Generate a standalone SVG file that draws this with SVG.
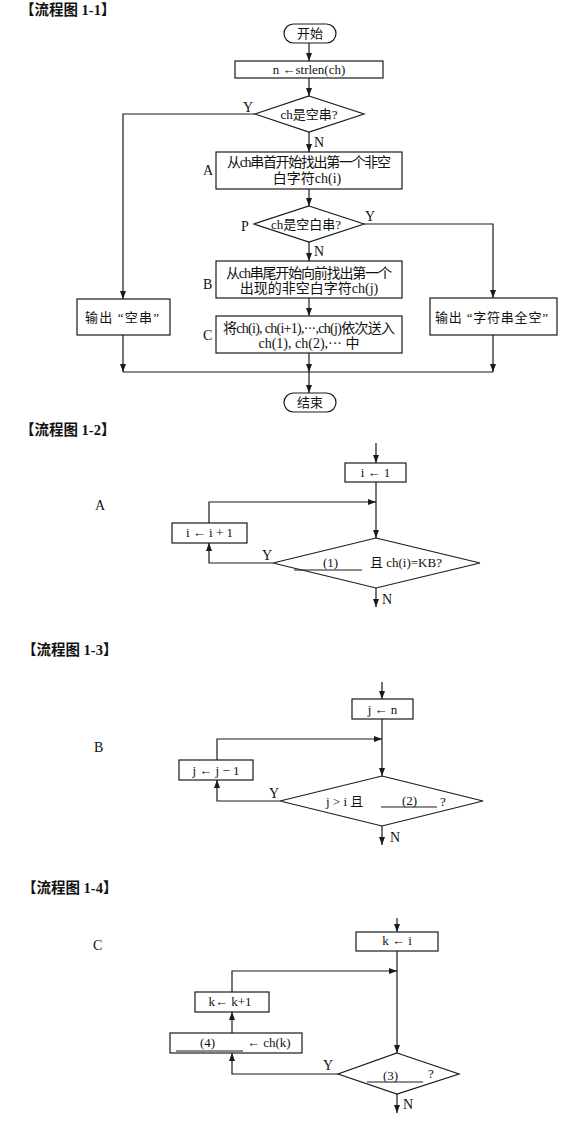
<svg xmlns="http://www.w3.org/2000/svg" width="575" height="1121" viewBox="0 0 575 1121">
<style>
.bg{fill:#fff}
.box{fill:#fff;stroke:#1a1a1a;stroke-width:1.2}
.ln{fill:none;stroke:#1a1a1a;stroke-width:1.2}
.t{font-family:"Liberation Serif","Noto Sans CJK SC",serif;font-size:13px;fill:#111}
.tb{font-family:"Liberation Serif","Noto Sans CJK SC",serif;font-size:14px;fill:#111}
.c{text-anchor:middle}
.ttl{font-family:"Liberation Serif","Noto Sans CJK SC",serif;font-size:14.5px;font-weight:bold;fill:#111}
.lbl{font-family:"Liberation Serif",serif;font-size:14px;fill:#111}
</style>
<defs>
<marker id="ah" markerWidth="9" markerHeight="6" refX="8" refY="3" orient="auto" markerUnits="userSpaceOnUse">
<path d="M0,0 L8,3 L0,6 z" fill="#1a1a1a"/>
</marker>
</defs>
<rect class="bg" x="0" y="0" width="575" height="1121"/>

<!-- Titles -->
<text class="ttl" x="20" y="15">【流程图 1-1】</text>
<text class="ttl" x="20" y="435">【流程图 1-2】</text>
<text class="ttl" x="22" y="655">【流程图 1-3】</text>
<text class="ttl" x="22" y="893">【流程图 1-4】</text>

<!-- Flow 1-1 nodes -->
<g id="start"><rect class="box" x="284" y="24" width="52" height="19" rx="9.5"/><text class="t c" x="310" y="38">开始</text></g>
<g id="strlen"><rect class="box" x="235" y="61" width="148" height="17"/><text class="t c" x="309" y="74">n ←strlen(ch)</text></g>
<g id="d1"><polygon class="box" points="309,96 364,114 309,132 255,114"/><text class="t c" x="309" y="119">ch是空串?</text></g>
<g id="boxA"><rect class="box" x="216" y="152" width="186" height="37"/><text class="tb c" x="309" y="167" textLength="164">从ch串首开始找出第一个非空</text><text class="tb c" x="307" y="183">白字符ch(i)</text></g>
<g id="dP"><polygon class="box" points="309,206 364,224 309,242 254,224"/><text class="t c" x="306" y="229">ch是空白串?</text></g>
<g id="boxB"><rect class="box" x="216" y="261" width="186" height="37"/><text class="tb c" x="309" y="278" textLength="166">从ch串尾开始向前找出第一个</text><text class="tb c" x="309" y="293">出现的非空白字符ch(j)</text></g>
<g id="boxC"><rect class="box" x="216" y="316" width="186" height="37"/><text class="tb c" x="309" y="333" textLength="172">将ch(i), ch(i+1),···,ch(j)依次送入</text><text class="tb c" x="309" y="348">ch(1), ch(2),··· 中</text></g>
<g id="outEmpty"><rect class="box" x="77" y="299" width="93" height="36"/><text class="t" x="85" y="322" textLength="74">输出 “空串”</text></g>
<g id="outBlank"><rect class="box" x="430" y="298" width="127" height="37"/><text class="t" x="435" y="322" textLength="113">输出 “字符串全空”</text></g>
<g id="end"><rect class="box" x="284" y="393" width="52" height="19" rx="9.5"/><text class="t c" x="310" y="407">结束</text></g>
<g id="labels11">
<text class="lbl" x="203" y="175">A</text>
<text class="lbl" x="203" y="289">B</text>
<text class="lbl" x="203" y="340">C</text>
<text class="lbl" x="241" y="231">P</text>
<text class="lbl" x="243" y="112">Y</text>
<text class="lbl" x="314" y="147">N</text>
<text class="lbl" x="365" y="221">Y</text>
<text class="lbl" x="314" y="256">N</text>
</g>

<!-- Flow 1-2 nodes -->
<g id="i1"><rect class="box" x="345" y="463" width="61" height="19"/><text class="t c" x="375.5" y="477">i ← 1</text></g>
<g id="iinc"><rect class="box" x="172" y="523" width="75" height="20"/><text class="t c" x="209.5" y="537">i ← i + 1</text></g>
<g id="dA"><polygon class="box" points="376,538 480,563 376,588 273,563"/><text class="t" x="323" y="567">(1)</text><line class="ln" x1="294" y1="570" x2="362" y2="570"/><text class="t" x="370" y="567">且 ch(i)=KB?</text></g>
<g id="labels12">
<text class="lbl" x="95" y="510">A</text>
<text class="lbl" x="262" y="560">Y</text>
<text class="lbl" x="382" y="604">N</text>
</g>

<!-- Flow 1-3 nodes -->
<g id="jn"><rect class="box" x="352" y="699" width="61" height="20"/><text class="t c" x="382.5" y="714">j ← n</text></g>
<g id="jdec"><rect class="box" x="179" y="760" width="74" height="20"/><text class="t c" x="216" y="775">j ← j − 1</text></g>
<g id="dB"><polygon class="box" points="382,776 483,801 382,826 280,801"/><text class="t" x="326" y="806">j &gt; i 且</text><line class="ln" x1="381" y1="807" x2="437" y2="807"/><text class="t" x="402" y="805">(2)</text><text class="t" x="440" y="806">?</text></g>
<g id="labels13">
<text class="lbl" x="94" y="752">B</text>
<text class="lbl" x="269" y="798">Y</text>
<text class="lbl" x="390" y="842">N</text>
</g>

<!-- Flow 1-4 nodes -->
<g id="ki"><rect class="box" x="356" y="932" width="82" height="19"/><text class="t c" x="397" y="945">k ←  i</text></g>
<g id="kinc"><rect class="box" x="195" y="992" width="74" height="20"/><text class="t c" x="230" y="1006">k← k+1</text></g>
<g id="assign"><rect class="box" x="170" y="1033" width="132" height="20"/><text class="t" x="200" y="1047">(4)</text><line class="ln" x1="176" y1="1051" x2="243" y2="1051"/><text class="t" x="247" y="1047">← ch(k)</text></g>
<g id="dC"><polygon class="box" points="397,1053 459,1074 397,1094 338,1074"/><text class="t" x="383" y="1080">(3)</text><line class="ln" x1="367" y1="1082" x2="423" y2="1082"/><text class="t" x="428" y="1078">?</text></g>
<g id="labels14">
<text class="lbl" x="93" y="950">C</text>
<text class="lbl" x="323" y="1070">Y</text>
<text class="lbl" x="403" y="1109">N</text>
</g>

<!-- Connectors -->
<g id="connectors">
<line class="ln" x1="309" y1="43" x2="309" y2="61" marker-end="url(#ah)"/>
<line class="ln" x1="309" y1="78" x2="309" y2="96" marker-end="url(#ah)"/>
<line class="ln" x1="309" y1="132" x2="309" y2="152" marker-end="url(#ah)"/>
<polyline class="ln" points="255,114 123,114 123,299" marker-end="url(#ah)"/>
<line class="ln" x1="309" y1="189" x2="309" y2="206" marker-end="url(#ah)"/>
<line class="ln" x1="309" y1="242" x2="309" y2="261" marker-end="url(#ah)"/>
<polyline class="ln" points="364,224 493,224 493,298" marker-end="url(#ah)"/>
<line class="ln" x1="309" y1="298" x2="309" y2="316" marker-end="url(#ah)"/>
<line class="ln" x1="309" y1="353" x2="309" y2="372" marker-end="url(#ah)"/>
<line class="ln" x1="123" y1="335" x2="123" y2="372" marker-end="url(#ah)"/>
<line class="ln" x1="493" y1="335" x2="493" y2="372" marker-end="url(#ah)"/>
<line class="ln" x1="123" y1="372" x2="493" y2="372"/>
<line class="ln" x1="309" y1="372" x2="309" y2="393" marker-end="url(#ah)"/>

<line class="ln" x1="376" y1="443" x2="376" y2="463" marker-end="url(#ah)"/>
<line class="ln" x1="376" y1="482" x2="376" y2="538" marker-end="url(#ah)"/>
<polyline class="ln" points="209,523 209,502 376,502" marker-end="url(#ah)"/>
<polyline class="ln" points="273,563 209,563 209,543" marker-end="url(#ah)"/>
<line class="ln" x1="376" y1="588" x2="376" y2="607" marker-end="url(#ah)"/>

<line class="ln" x1="382" y1="682" x2="382" y2="699" marker-end="url(#ah)"/>
<line class="ln" x1="382" y1="719" x2="382" y2="776" marker-end="url(#ah)"/>
<polyline class="ln" points="217,760 217,739 382,739" marker-end="url(#ah)"/>
<polyline class="ln" points="280,801 217,801 217,780" marker-end="url(#ah)"/>
<line class="ln" x1="382" y1="826" x2="382" y2="845" marker-end="url(#ah)"/>

<line class="ln" x1="397" y1="918" x2="397" y2="932" marker-end="url(#ah)"/>
<line class="ln" x1="397" y1="951" x2="397" y2="1053" marker-end="url(#ah)"/>
<polyline class="ln" points="232,992 232,971 397,971" marker-end="url(#ah)"/>
<line class="ln" x1="232" y1="1033" x2="232" y2="1012" marker-end="url(#ah)"/>
<polyline class="ln" points="338,1074 232,1074 232,1053" marker-end="url(#ah)"/>
<line class="ln" x1="397" y1="1094" x2="397" y2="1113" marker-end="url(#ah)"/>
</g>
</svg>
